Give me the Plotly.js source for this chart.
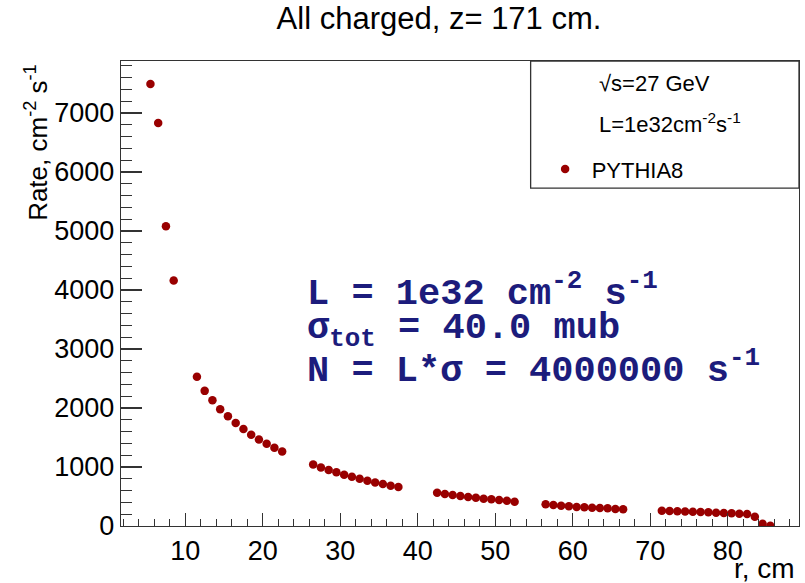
<!DOCTYPE html>
<html>
<head>
<meta charset="utf-8">
<script src="https://cdn.plot.ly/plotly-3.0.1.min.js"></script>
<style>html,body{margin:0;padding:0;background:#fff;}#chart{width:805px;height:583px;}</style>
</head>
<body>
<div id="chart"></div>
<script>
// radius bin centres, cm
const rValues = [5.5, 6.5, 7.5, 8.5,
  11.5, 12.5, 13.5, 14.5, 15.5, 16.5, 17.5, 18.5, 19.5, 20.5, 21.5, 22.5,
  26.5, 27.5, 28.5, 29.5, 30.5, 31.5, 32.5, 33.5, 34.5, 35.5, 36.5, 37.5,
  42.5, 43.5, 44.5, 45.5, 46.5, 47.5, 48.5, 49.5, 50.5, 51.5, 52.5,
  56.5, 57.5, 58.5, 59.5, 60.5, 61.5, 62.5, 63.5, 64.5, 65.5, 66.5,
  71.5, 72.5, 73.5, 74.5, 75.5, 76.5, 77.5, 78.5, 79.5, 80.5, 81.5, 82.5, 83.5, 84.5, 85.5];
// rate, cm^-2 s^-1
const rateValues = [7490, 6830, 5080, 4160,
  2530, 2290, 2130, 1980, 1860, 1745, 1645, 1545, 1467, 1393, 1325, 1264,
  1044, 993, 948, 909, 868, 834, 800, 766, 739, 711, 682, 660,
  563, 541, 525, 508, 491, 479, 462, 452, 440, 428, 411,
  367, 355, 343, 333, 321, 316, 310, 305, 299, 288, 283,
  259, 254, 249, 246, 242, 237, 232, 225, 220, 215, 208, 203, 157, 39, 5];

const xTickVals = [10, 20, 30, 40, 50, 60, 70, 80];
const xTickText = ["10", "20", "30", "40", "50", "60", "70", "80"];
const yTickVals = [0, 1000, 2000, 3000, 4000, 5000, 6000, 7000];
const yTickText = ["0", "1000", "2000", "3000", "4000", "5000", "6000", "7000"];

const seriesName = "PYTHIA8";
const legendLines = ["\u221As=27 GeV", "L=1e32cm<sup>-2</sup>s<sup>-1</sup>"];
const infoLines = ["L = 1e32 cm<sup>-2</sup> s<sup>-1</sup>",
                   "\u03C3<sub>tot</sub> = 40.0 mub",
                   "N = L*\u03C3 = 4000000 s<sup>-1</sup>"];
const chartTitle = "All charged, z= 171 cm.";
const xTitle = "r, cm";
const yTitle = "Rate, cm<sup>-2</sup> s<sup>-1</sup>";

const sans = "Liberation Sans, Arial, Helvetica, sans-serif";
const mono = "Liberation Mono, Courier New, monospace";
const red = "#990000";
const navy = "#1c1c7c";
const axisCol = "#333333";

const trace = {
  x: rValues, y: rateValues, type: "scatter", mode: "markers",
  name: seriesName,
  marker: {color: red, size: 8.5, symbol: "circle"},
  showlegend: true
};

const W = 678.6, H = 465.3; // plot area size in px (for paper placement)
function px(xp) { return (xp - 121) / W; }
function py(yp) { return (526 - yp) / H; }

const annotations = [
  {xref: "paper", yref: "paper", x: px(798), y: py(569), xanchor: "right", yanchor: "middle",
   text: xTitle, showarrow: false, font: {family: sans, size: 28, color: "#000"}},
  {xref: "paper", yref: "paper", x: px(37), y: py(62), xanchor: "center", yanchor: "top",
   textangle: -90, text: yTitle, showarrow: false, font: {family: sans, size: 26, color: "#000"}},
  {xref: "paper", yref: "paper", x: px(597), y: py(83), xanchor: "left", yanchor: "middle",
   text: legendLines[0], showarrow: false, font: {family: sans, size: 22, color: "#000"}},
  {xref: "paper", yref: "paper", x: px(597), y: py(123), xanchor: "left", yanchor: "middle",
   text: legendLines[1], showarrow: false, font: {family: sans, size: 22, color: "#000"}},
  {xref: "paper", yref: "paper", x: px(305), y: py(290), xanchor: "left", yanchor: "middle",
   text: "<b>" + infoLines[0] + "</b>", showarrow: false, font: {family: mono, size: 37, color: navy}},
  {xref: "paper", yref: "paper", x: px(305), y: py(330), xanchor: "left", yanchor: "middle",
   text: "<b>" + infoLines[1] + "</b>", showarrow: false, font: {family: mono, size: 37, color: navy}},
  {xref: "paper", yref: "paper", x: px(305), y: py(367), xanchor: "left", yanchor: "middle",
   text: "<b>" + infoLines[2] + "</b>", showarrow: false, font: {family: mono, size: 37, color: navy}}
];

const layout = {
  width: 805, height: 583,
  margin: {l: 121, r: 6, t: 61, b: 57},
  paper_bgcolor: "#ffffff", plot_bgcolor: "#ffffff",
  font: {family: sans, color: "#000"},
  title: {text: chartTitle, xref: "container", x: 439 / 805, xanchor: "center",
          yref: "container", y: 1 - 18 / 583, yanchor: "middle",
          font: {family: sans, size: 31, color: "#000"}},
  xaxis: {
    range: [1.7, 89.2], showgrid: false, zeroline: false,
    showline: true, linecolor: axisCol, linewidth: 1.3, mirror: true,
    ticks: "inside", ticklen: 13, tickwidth: 1.2, tickcolor: axisCol,
    tickmode: "array", tickvals: xTickVals, ticktext: xTickText,
    tickfont: {family: sans, size: 27, color: "#000"},
    minor: {tickmode: "linear", tick0: 0, dtick: 2, ticks: "inside", ticklen: 7,
            tickwidth: 1.2, tickcolor: axisCol, showgrid: false}
  },
  yaxis: {
    range: [0, 7880], showgrid: false, zeroline: false,
    showline: true, linecolor: axisCol, linewidth: 1.3, mirror: true,
    ticks: "inside", ticklen: 21, tickwidth: 1.2, tickcolor: axisCol,
    tickmode: "array", tickvals: yTickVals, ticktext: yTickText,
    tickfont: {family: sans, size: 27, color: "#000"},
    minor: {tickmode: "linear", tick0: 0, dtick: 200, ticks: "inside", ticklen: 11,
            tickwidth: 1.2, tickcolor: axisCol, showgrid: false}
  },
  showlegend: true,
  legend: {x: px(539), y: py(169), xanchor: "left", yanchor: "middle",
           bgcolor: "rgba(0,0,0,0)", borderwidth: 0, itemwidth: 43,
           font: {family: sans, size: 22, color: "#000"}},
  shapes: [
    {type: "rect", xref: "paper", yref: "paper", x0: px(531), x1: 1.0, y0: py(188), y1: 1.0,
     line: {color: axisCol, width: 1.3}, fillcolor: "rgba(0,0,0,0)"}
  ],
  annotations: annotations
};

Plotly.newPlot("chart", [trace], layout, {displayModeBar: false, staticPlot: true});
</script>
</body>
</html>
